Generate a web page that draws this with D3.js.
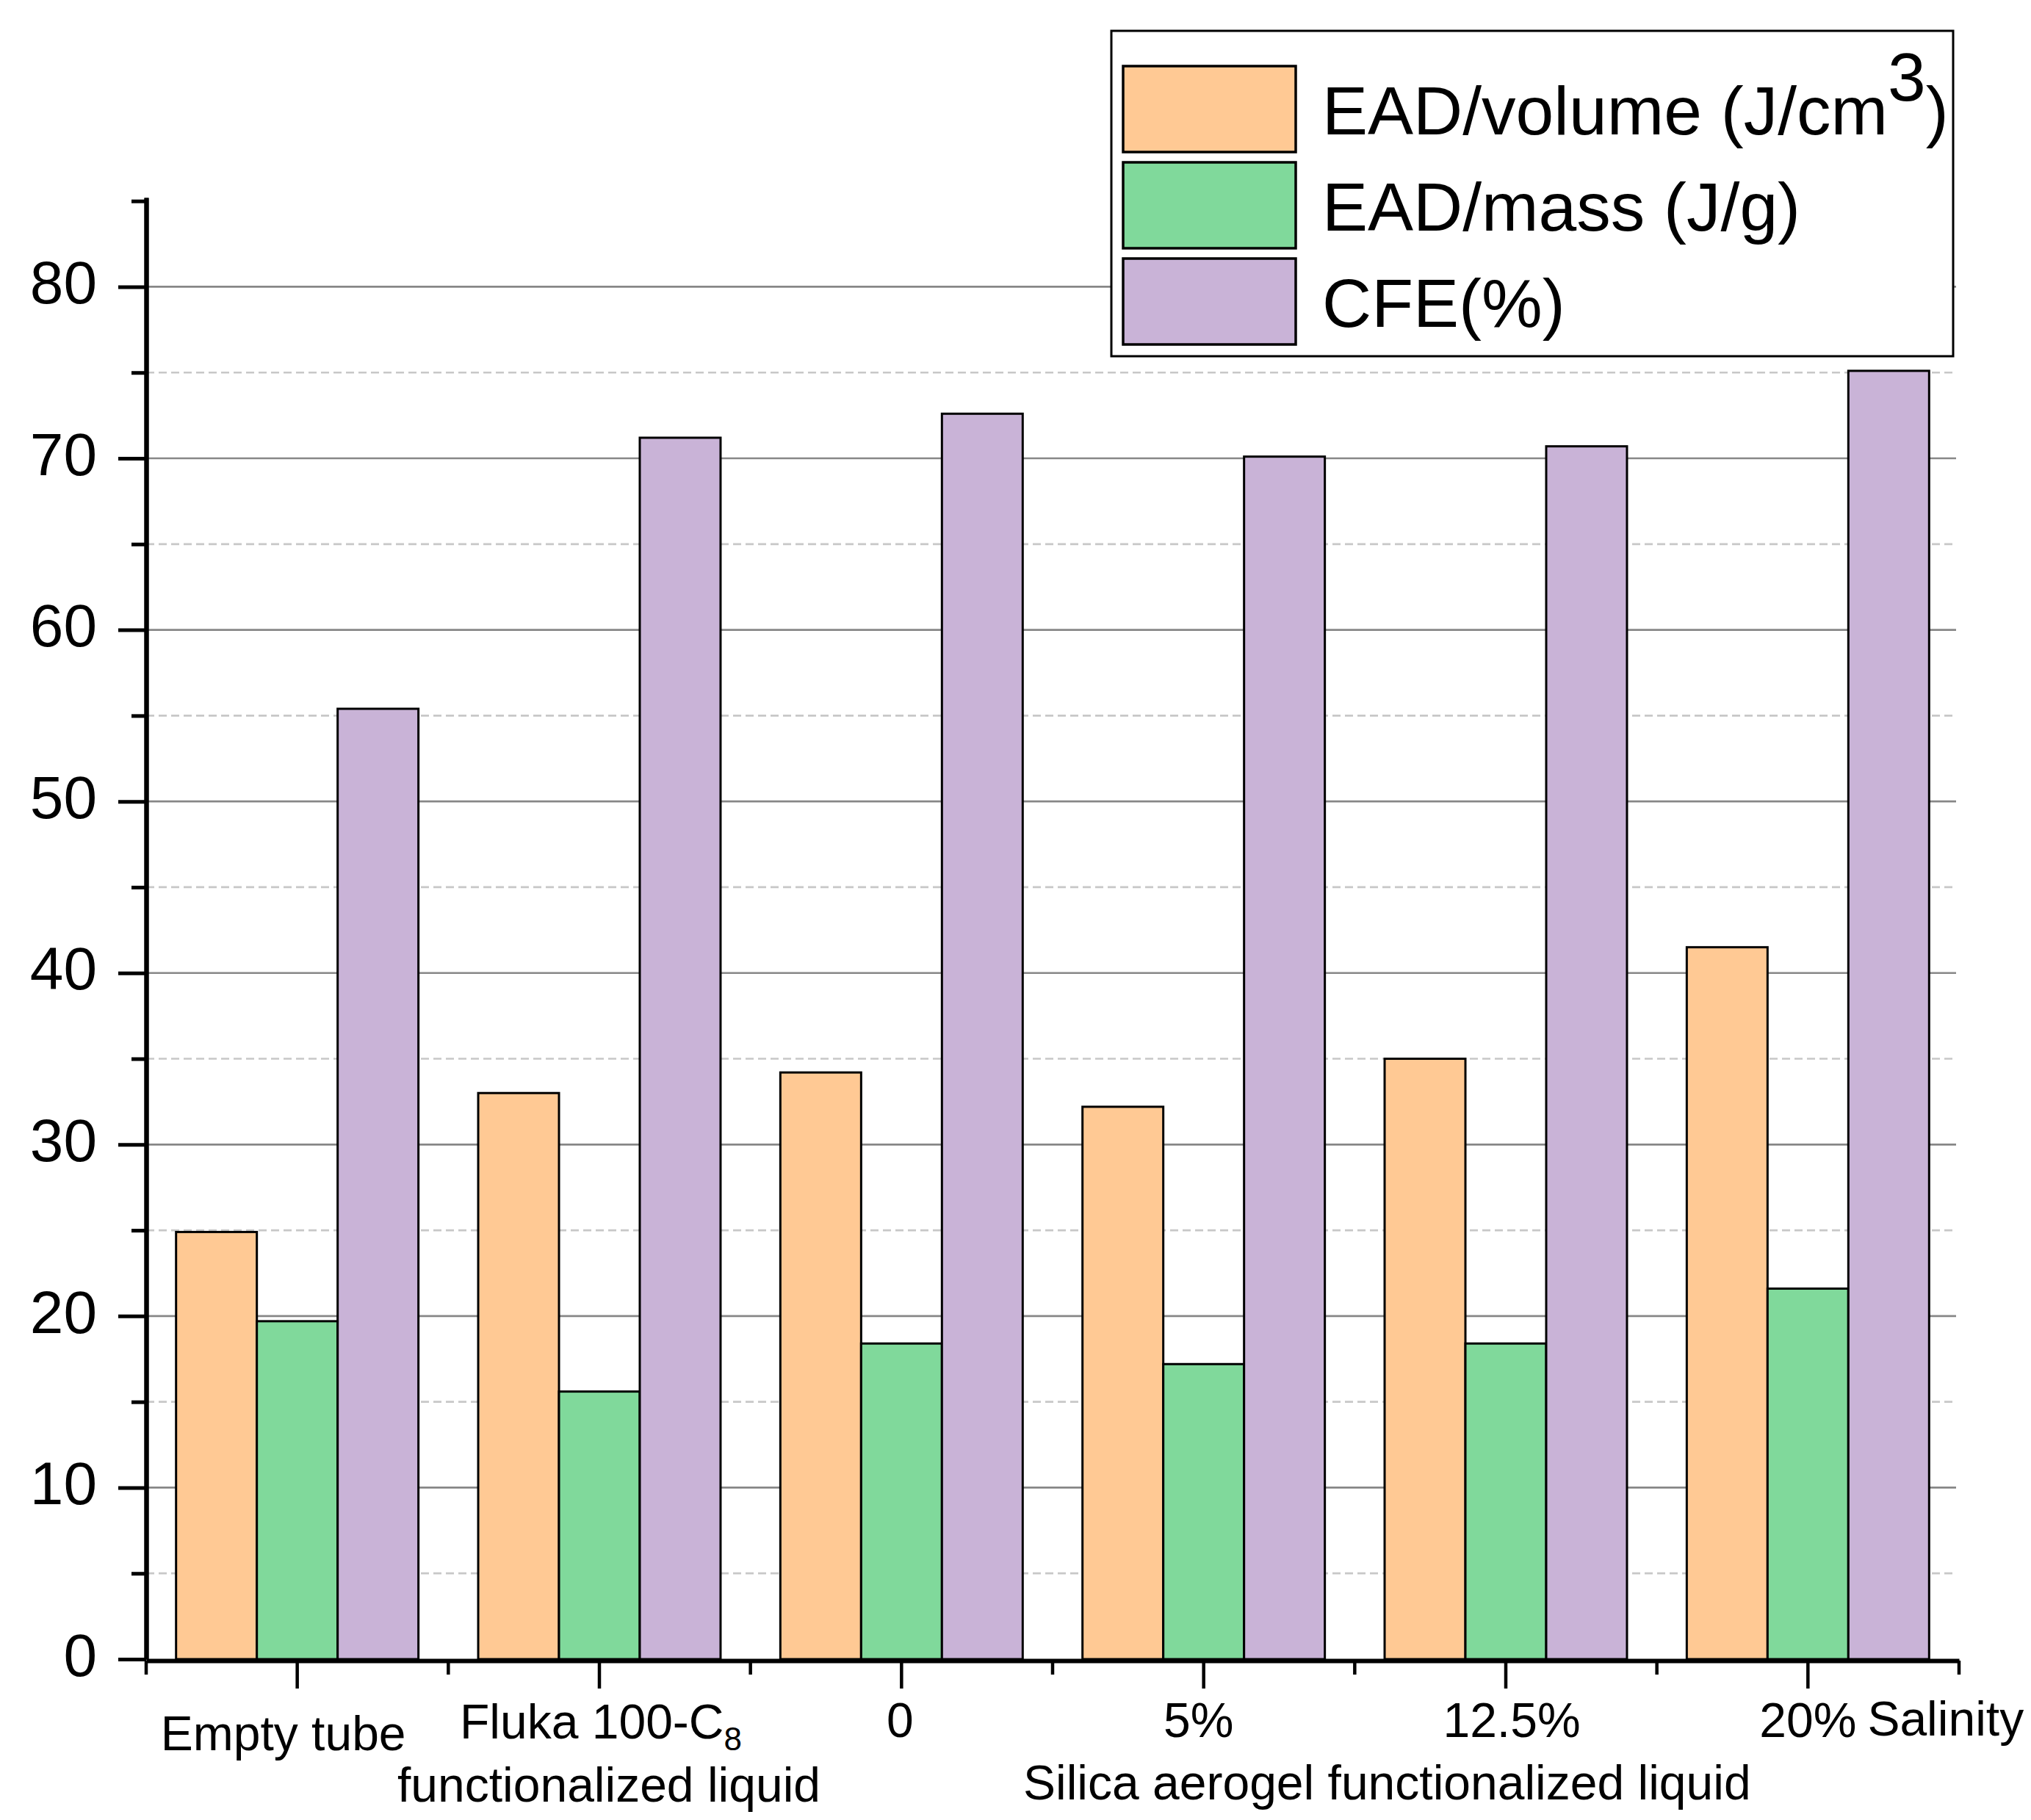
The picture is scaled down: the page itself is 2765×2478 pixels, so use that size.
<!DOCTYPE html>
<html>
<head>
<meta charset="utf-8">
<script src="https://cdn.jsdelivr.net/npm/d3@7"></script>
<style>
    body { margin: 0; background: #fff; }
    svg { display: block; }
    text { font-family: "Liberation Sans", Arial, sans-serif; fill: #000; }
</style>
</head>
<body>
<div id="chart"></div>
<script>
    // data
    const categories = ["Empty tube", "Fluka 100-C8", "0", "5%", "12.5%", "20%"];
    const seriesNames = ["EAD/volume (J/cm3)", "EAD/mass (J/g)", "CFE(%)"];
    const eadVolume = [24.9, 33.0, 34.2, 32.2, 35.0, 41.5];
    const eadMass = [19.7, 15.6, 18.4, 17.2, 18.4, 21.6];
    const cfe = [55.4, 71.2, 72.6, 70.1, 70.7, 75.1];
    const majorTicks = [0, 10, 20, 30, 40, 50, 60, 70, 80];
    const minorTicks = [5, 15, 25, 35, 45, 55, 65, 75, 85];
    const groupLabels = ["functionalized liquid", "Silica aerogel functionalized liquid"];
    const salinityLabel = "Salinity";
    const colors = ["#ffc994", "#80d99b", "#c9b3d7"];

    const width = 2765, height = 2478;
    const plotLeft = 199, plotRight = 2667, plotTop = 269, plotBottom = 2259;

    const svg = d3.select("#chart")
        .append("svg")
        .attr("width", width)
        .attr("height", height);

    const x = d3.scaleBand()
        .domain(categories)
        .range([plotLeft, plotRight]);

    const xSub = d3.scaleBand()
        .domain(seriesNames)
        .range([0, x.bandwidth()])
        .paddingOuter(0.37);

    const y = d3.scaleLinear()
        .domain([0, 85.2])
        .range([plotBottom, plotTop]);

    // grid lines
    svg.append("g")
        .selectAll("line")
        .data(minorTicks.filter(d => d < 80))
        .join("line")
        .attr("x1", plotLeft).attr("x2", plotRight - 4)
        .attr("y1", d => y(d)).attr("y2", d => y(d))
        .attr("stroke", "#c8c8c8")
        .attr("stroke-width", 2.7)
        .attr("stroke-dasharray", "11,6");

    svg.append("g")
        .selectAll("line")
        .data(majorTicks.filter(d => d > 0))
        .join("line")
        .attr("x1", plotLeft).attr("x2", plotRight - 4)
        .attr("y1", d => y(d)).attr("y2", d => y(d))
        .attr("stroke", "#878787")
        .attr("stroke-width", 2.7);

    // bars
    const seriesValues = [eadVolume, eadMass, cfe];
    const rows = [];
    categories.forEach((c, i) => {
        seriesNames.forEach((s, j) => {
            rows.push({cat: c, name: s, value: seriesValues[j][i], color: colors[j]});
        });
    });

    svg.append("g")
        .selectAll("rect")
        .data(rows)
        .join("rect")
        .attr("x", d => x(d.cat) + xSub(d.name))
        .attr("y", d => y(d.value))
        .attr("width", xSub.bandwidth())
        .attr("height", d => y(0) - y(d.value))
        .attr("fill", d => d.color)
        .attr("stroke", "#000")
        .attr("stroke-width", 3);

    // y axis
    const yAxis = svg.append("g")
        .attr("transform", "translate(" + plotLeft + ",0)")
        .call(d3.axisLeft(y).tickValues(majorTicks).tickSize(38).tickSizeOuter(0).tickPadding(29));
    yAxis.select(".domain").attr("stroke-width", 6);
    yAxis.selectAll(".tick line").attr("stroke-width", 5);
    yAxis.selectAll(".tick text")
        .attr("font-size", 82)
        .attr("font-family", "Liberation Sans, Arial, sans-serif")
        .attr("dy", "0.27em");

    const yMinor = svg.append("g")
        .attr("transform", "translate(" + plotLeft + ",0)")
        .call(d3.axisLeft(y).tickValues(minorTicks).tickSize(20).tickSizeOuter(0).tickFormat(""));
    yMinor.select(".domain").attr("stroke-width", 6);
    yMinor.selectAll(".tick line").attr("stroke-width", 5);

    // x axis
    const xAxis = svg.append("g")
        .attr("transform", "translate(0," + (plotBottom + 2) + ")")
        .call(d3.axisBottom(x).tickSize(38).tickSizeOuter(0).tickFormat(""));
    xAxis.select(".domain").attr("stroke-width", 6);
    xAxis.selectAll(".tick line").attr("stroke-width", 4.5);

    const edges = categories.map(c => x(c)).concat([plotRight]);
    svg.append("g")
        .selectAll("line")
        .data(edges)
        .join("line")
        .attr("x1", d => d).attr("x2", d => d)
        .attr("y1", plotBottom + 2).attr("y2", plotBottom + 21)
        .attr("stroke", "#000")
        .attr("stroke-width", 4.5);

    // category labels
    const labelSize = 66;
    const cx = c => x(c) + x.bandwidth() / 2;
    const catLabels = svg.append("g").attr("font-size", labelSize);

    categories.forEach((c, i) => {
        const t = catLabels.append("text")
            .attr("text-anchor", "middle")
            .attr("x", cx(c))
            .attr("y", plotBottom + 106);
        if (i === 0) {
            t.attr("x", cx(c) - 19).attr("y", plotBottom + 124).text(c);
        } else if (c.endsWith("C8")) {
            t.attr("x", cx(c) + 2).attr("y", plotBottom + 108);
            t.append("tspan").text(c.slice(0, -1));
            t.append("tspan").attr("font-size", 44).attr("dy", 16).text(c.slice(-1));
        } else if (i === categories.length - 1) {
            t.text(c);
            const w = t.node().getComputedTextLength();
            catLabels.append("text")
                .attr("x", cx(c) + w / 2 + 15)
                .attr("y", plotBottom + 104)
                .text(salinityLabel);
        } else {
            const shift = c === "5%" ? -7 : (c === "12.5%" ? 8 : -2);
            t.attr("x", cx(c) + shift).text(c);
        }
    });

    catLabels.append("text")
        .attr("text-anchor", "middle")
        .attr("x", cx(categories[1]) + 13)
        .attr("y", plotBottom + 194)
        .text(groupLabels[0]);

    catLabels.append("text")
        .attr("text-anchor", "middle")
        .attr("x", (x(categories[2]) + plotRight) / 2 + 44)
        .attr("y", plotBottom + 191)
        .text(groupLabels[1]);

    // legend
    const legend = svg.append("g");
    legend.append("rect")
        .attr("x", 1513).attr("y", 42)
        .attr("width", 1146).attr("height", 443)
        .attr("fill", "#fff")
        .attr("stroke", "#000")
        .attr("stroke-width", 3);

    const item = legend.selectAll("g.item")
        .data(seriesNames)
        .join("g")
        .attr("class", "item")
        .attr("transform", (d, i) => "translate(1529," + (90 + i * 131) + ")");

    item.append("rect")
        .attr("width", 235).attr("height", 117)
        .attr("fill", (d, i) => colors[i])
        .attr("stroke", "#000")
        .attr("stroke-width", 3.5);

    item.append("text")
        .attr("x", 271)
        .attr("y", 93)
        .attr("font-size", 93)
        .each(function(d) {
            const t = d3.select(this);
            if (d.includes("cm3")) {
                const k = d.indexOf("3");
                t.append("tspan").text(d.slice(0, k));
                t.append("tspan").attr("dy", -46).text("3");
                t.append("tspan").attr("dy", 46).text(d.slice(k + 1));
            } else {
                t.text(d);
            }
        });
</script>
</body>
</html>
